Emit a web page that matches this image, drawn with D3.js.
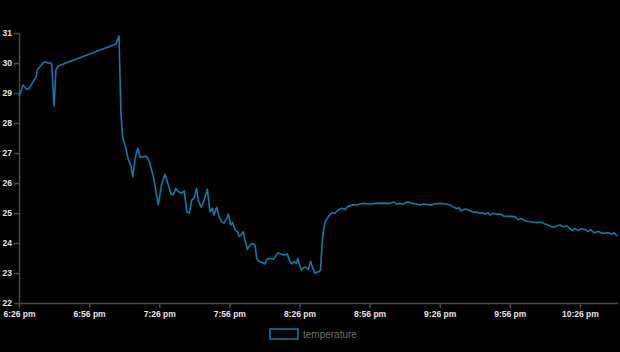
<!DOCTYPE html>
<html>
<head>
<meta charset="utf-8">
<script src="https://cdn.jsdelivr.net/npm/d3@7"></script>
<style>
  body { margin: 0; background: #000; }
  svg { display: block; background: #000; }
</style>
</head>
<body>
<svg width="620" height="352"></svg>
<script>
// readings start at 6:26 pm, offsets in minutes
const startTime = new Date(2020, 0, 1, 18, 26, 0);
const minutes = [
	0, 1.8, 3.3, 4.4, 6.1, 7.3, 7.8, 9.0, 10.4, 11.5, 12.5, 13.3, 14.0, 15.0, 15.8, 16.8,
	41.5, 42.8, 43.6, 44.4, 45.4, 46.8, 47.8, 48.7, 49.6, 50.8, 51.8, 53.2, 54.4, 55.8, 57.5,
	59.6, 61.1, 62.5, 63.9, 65.1, 66.1, 67.1, 68.2, 69.6, 70.7, 71.8, 72.9, 73.9, 74.9, 76.0,
	76.7, 77.9, 79.2, 80.6, 81.7, 82.7, 83.4, 84.6, 85.6, 86.7, 87.7, 88.9, 89.6, 90.6, 91.4,
	92.4, 93.4, 94.3, 95.3, 96.0, 96.7, 97.7, 98.9, 100.0, 101.0, 101.7, 102.8, 104.3, 105.3,
	106.0, 107.4, 108.8, 109.9, 110.9, 112.4, 113.8, 114.8, 115.7, 116.7, 117.7, 118.6, 119.3,
	120.2, 120.9, 121.9, 122.8, 123.8, 124.8, 125.7, 126.7, 127.6, 128.4, 129.0, 129.7, 130.3,
	131.0, 132.4, 133.8, 135.2, 136.6, 138.1, 139.5, 140.9, 143.1, 144.5, 146.0, 147.3, 150.1,
	153.0, 156.0, 158.7, 160.2, 161.6, 163.1, 164.4, 165.5, 166.6, 168.0, 170.2, 171.6, 173.0,
	175.1, 176.6, 177.3, 180.1, 182.9, 184.3, 185.1, 186.6, 187.8, 188.3, 189.0, 190.9, 193.0,
	194.4, 195.8, 197.0, 198.0, 199.4, 200.8, 201.5, 203.0, 204.4, 205.8, 207.3, 212.2, 213.7,
	214.8, 216.5, 218.7, 221.5, 223.6, 225.0, 226.4, 228.6, 230.0, 231.4, 232.9, 234.3, 235.7,
	236.8, 237.8, 239.3, 240.7, 242.1, 243.6, 244.6, 246.0, 247.9, 250.0, 252.1, 253.6, 254.6, 256.0
];
const temperature = [
	28.88, 29.27, 29.12, 29.16, 29.38, 29.54, 29.77, 29.88, 30.01, 30.04, 29.99, 30.01, 29.96, 28.57, 29.77, 29.90,
	30.63, 30.90, 28.32, 27.49, 27.27, 26.77, 26.60, 26.21, 26.77, 27.16, 26.86, 26.88, 26.90, 26.71, 26.21,
	25.27, 25.99, 26.30, 25.93, 25.62, 25.62, 25.82, 25.71, 25.66, 25.74, 25.04, 24.99, 25.43, 25.49, 25.82,
	25.43, 25.19, 25.43, 25.79, 25.04, 25.16, 24.93, 25.19, 24.88, 24.71, 24.66, 24.82, 24.97, 24.60, 24.68,
	24.46, 24.38, 24.21, 24.30, 24.38, 24.10, 23.79, 23.93, 23.99, 23.93, 23.49, 23.38, 23.34, 23.30,
	23.46, 23.49, 23.46, 23.57, 23.68, 23.62, 23.60, 23.63, 23.43, 23.30, 23.38, 23.32, 23.49,
	23.23, 23.10, 23.19, 23.19, 23.12, 23.38, 23.16, 22.99, 23.04, 23.04, 23.10, 23.99, 24.43,
	24.71, 24.88, 25.01, 24.99, 25.10, 25.16, 25.12, 25.23, 25.27, 25.27, 25.30, 25.32, 25.30,
	25.32, 25.33, 25.32, 25.37, 25.30, 25.32, 25.29, 25.35, 25.37, 25.32, 25.30, 25.27, 25.30,
	25.28, 25.26, 25.30, 25.32, 25.30, 25.27, 25.23, 25.17, 25.15, 25.18, 25.07, 25.13, 25.08,
	25.02, 25.03, 24.99, 25.02, 24.97, 25.01, 24.93, 24.99, 24.96, 24.97, 24.90, 24.88, 24.77,
	24.82, 24.74, 24.71, 24.68, 24.69, 24.63, 24.60, 24.52, 24.57, 24.60, 24.54, 24.57, 24.49,
	24.41, 24.49, 24.41, 24.48, 24.45, 24.38, 24.45, 24.34, 24.38, 24.32, 24.34, 24.29, 24.34, 24.23
];
const yTicks = [22, 23, 24, 25, 26, 27, 28, 29, 30, 31];
const xTickMinutes = [0, 30, 60, 90, 120, 150, 180, 210, 240];
const seriesName = "temperature";

const svg = d3.select("svg");
const width = +svg.attr("width");
const height = +svg.attr("height");
const margin = { top: 33, right: 2, bottom: 49, left: 19 };
const innerWidth = width - margin.left - margin.right;
const innerHeight = height - margin.top - margin.bottom;

const toTime = m => new Date(startTime.getTime() + m * 60000);
const data = minutes.map((m, i) => ({ time: toTime(m), value: temperature[i] }));

const xScale = d3.scaleTime()
	.domain([toTime(0), toTime(256.3)])
	.range([0, innerWidth]);

const yScale = d3.scaleLinear()
	.domain([22, 31])
	.range([innerHeight, 0]);

const fmt = d3.timeFormat("%-I:%M %p");
const xAxis = d3.axisBottom(xScale)
	.tickValues(xTickMinutes.map(toTime))
	.tickFormat(d => fmt(d).toLowerCase())
	.tickSize(5)
	.tickSizeOuter(0)
	.tickPadding(3);
const yAxis = d3.axisLeft(yScale)
	.tickValues(yTicks)
	.tickSize(5)
	.tickSizeOuter(0)
	.tickPadding(2);

const g = svg.append("g")
	.attr("transform", `translate(${margin.left}, ${margin.top})`);

const styleAxis = sel => {
	sel.selectAll("path, line").attr("stroke", "#4a4a4a").attr("stroke-width", 1.5);
	sel.selectAll("text")
		.attr("fill", "#e6e6e6")
		.style("font-family", "Liberation Sans, Arial, sans-serif")
		.style("font-size", "8.5px")
		.style("font-weight", "bold");
};

g.append("g").call(yAxis).call(styleAxis);
g.append("g")
	.attr("transform", `translate(0, ${innerHeight})`)
	.call(xAxis).call(styleAxis);

const line = d3.line()
	.x(d => xScale(d.time))
	.y(d => yScale(d.value));

g.append("path")
	.datum(data)
	.attr("fill", "none")
	.attr("stroke", "#137aa6")
	.attr("stroke-width", 1.6)
	.attr("stroke-linejoin", "round")
	.attr("d", line);

// legend
const legend = svg.append("g").attr("transform", "translate(270, 329)");
legend.append("rect")
	.attr("width", 28).attr("height", 10)
	.attr("fill", "none")
	.attr("stroke", "#137aa6")
	.attr("stroke-width", 1.5);
legend.append("text")
	.attr("x", 33).attr("y", 9)
	.attr("fill", "#6e6e6e")
	.style("font-family", "Liberation Sans, Arial, sans-serif")
	.style("font-size", "10px")
	.text(seriesName);
</script>
</body>
</html>
